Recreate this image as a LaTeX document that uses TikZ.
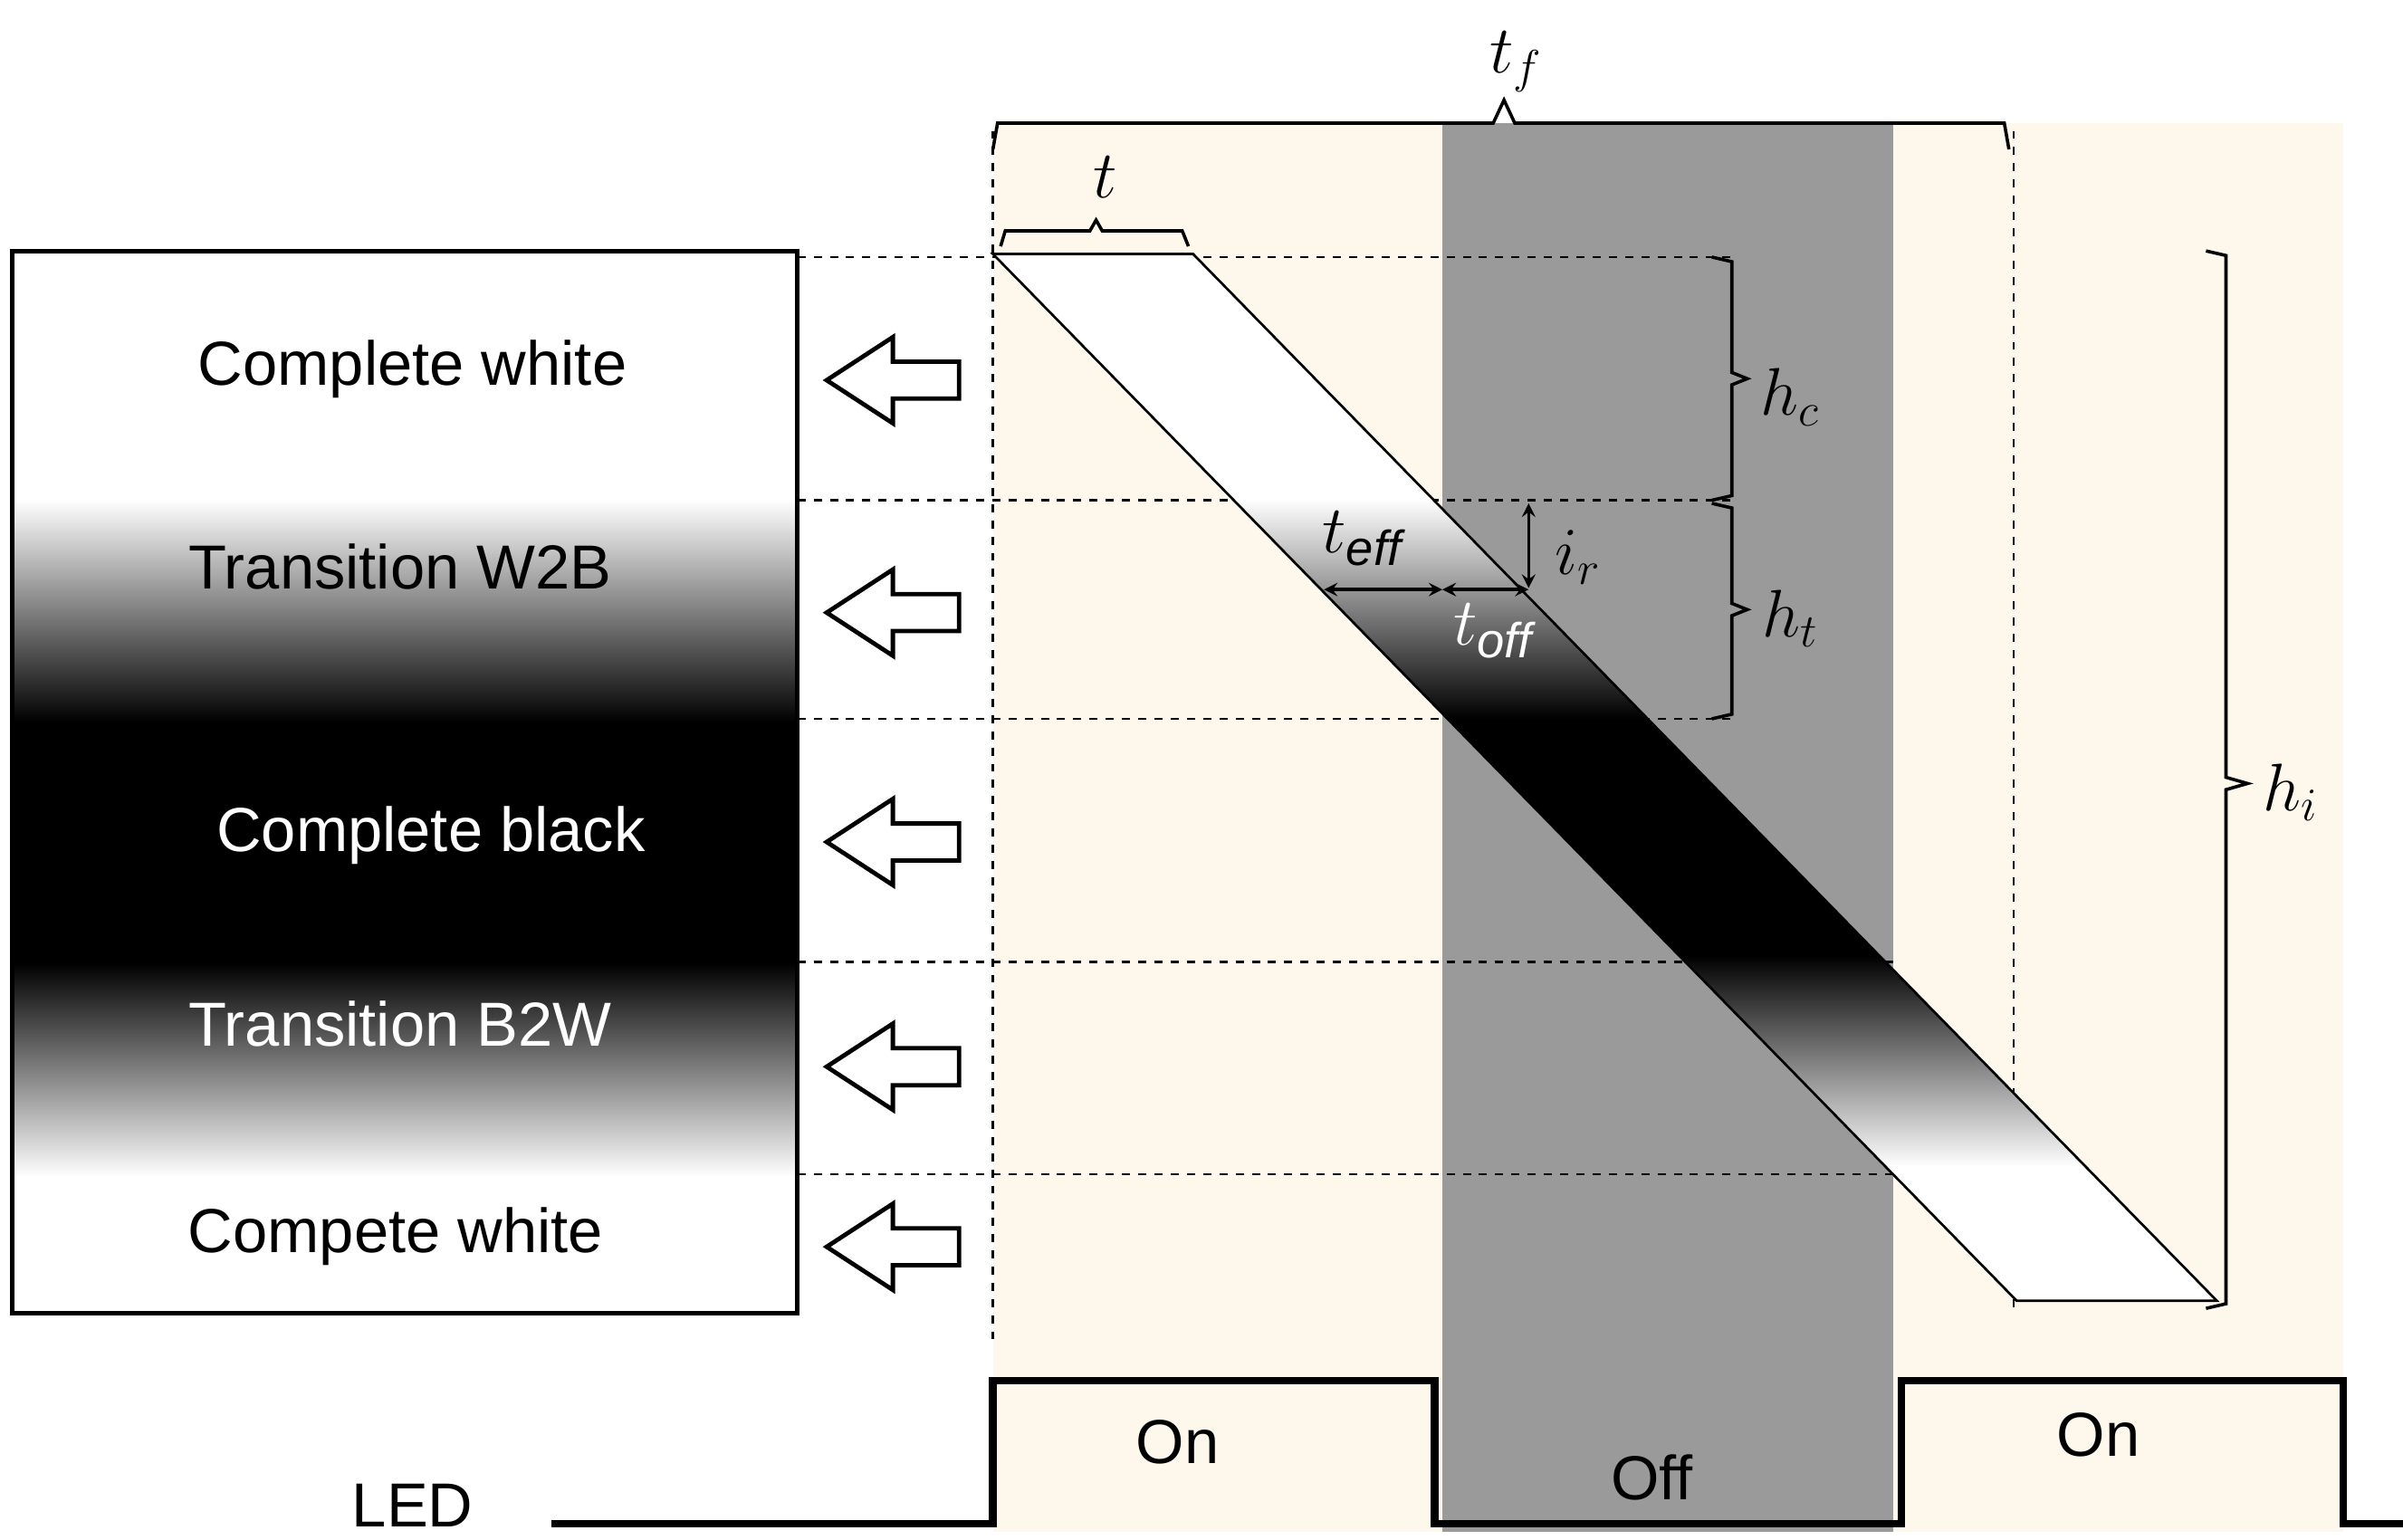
\documentclass[tikz,border=0pt]{standalone}
\usepackage{fontspec}
\setmainfont{Liberation Sans}
\pgfdeclareverticalshading{wb}{100bp}{color(0bp)=(white); color(25bp)=(white); color(31.4bp)=(white); color(41.5bp)=(black); color(52.8bp)=(black); color(63.3bp)=(white); color(75bp)=(white); color(100bp)=(white)}
\definecolor{cream}{HTML}{FDF7EC}
\definecolor{offgray}{HTML}{9A9A9A}
\begin{document}
\begin{tikzpicture}[x=0.02cm,y=-0.02cm,
  lbl/.style={font=\fontsize{23}{26}\selectfont},
  mlbl/.style={font=\fontsize{26}{30}\selectfont},
  dln/.style={dashed,line width=0.8pt},
  brk/.style={line width=1.2pt},
  harrow/.style={line width=1.6pt,fill=white},
  dbl/.style={line width=1.2pt,<->,>=stealth}]
\useasboundingbox (0,0) rectangle (1561,1000);
% backgrounds
\fill[cream] (645,80) rectangle (1522,995);
\fill[offgray] (937,80) rectangle (1230,995);
% left box
\shade[shading=wb] (8,163) rectangle (518,853);
\draw[line width=1.7pt] (8,163) rectangle (518,853);
\node[lbl] (cw) at (268,240) {Complete white};
\node[lbl] (tw) at (260,368) {Transition W2B};
\node[lbl,text=white] (cb) at (280,543) {Complete black};
\node[lbl,text=white] (tb) at (260,665) {Transition B2W};
\node[lbl] (cw2) at (257,803) {Compete white};
% hollow arrows
\foreach \y in {247,398,547,693,810}{
  \draw[harrow] (537,\y) -- (580,\y-28) -- (580,\y-12) -- (623,\y-12) -- (623,\y+12) -- (580,\y+12) -- (580,\y+28) -- cycle;}
% dashed lines
\draw[dln] (518,167) -- (1125,167);
\draw[dln] (518,325) -- (1125,325);
\draw[dln] (518,467) -- (1125,467);
\draw[dln] (518,625) -- (1230,625);
\draw[dln] (518,763) -- (1310,763);
\draw[dln] (645,85) -- (645,870);
\draw[dln] (1308,85) -- (1308,850);
% parallelogram
\shade[shading=wb] (645,165) -- (775,165) -- (1440,845) -- (1310,845) -- cycle;
\draw[line width=0.9pt] (645,165) -- (775,165) -- (1440,845) -- (1310,845) -- cycle;
% brackets
\draw[brk] (645,97) -- (648,80) -- (970,80) -- (977,65) -- (984,80) -- (1302,80) -- (1305,97);
\node[mlbl] (tf) at (985,40) {$t_f$};
\draw[brk] (650,160) -- (653,150) -- (708,150) -- (712,143) -- (716,150) -- (768,150) -- (772,160);
\node[mlbl] (t) at (718,115) {$t$};
\draw[brk] (1112,167) -- (1125,170) -- (1125,242) -- (1135,246) -- (1125,250) -- (1125,322) -- (1112,325);
\node[mlbl] (hc) at (1163,258) {$h_c$};
\draw[brk] (1112,327) -- (1125,330) -- (1125,392) -- (1135,396) -- (1125,400) -- (1125,464) -- (1112,467);
\node[mlbl] (ht) at (1163,402) {$h_t$};
\draw[brk] (1433,163) -- (1446,166) -- (1446,505) -- (1460,509) -- (1446,513) -- (1446,847) -- (1433,850);
\node[mlbl] (hi) at (1488,515) {$h_i$};
% small arrows
\coordinate (ir1) at (993,327); \coordinate (ir2) at (993,382);
\draw[dbl] (ir1) -- (ir2);
\node[mlbl] (ir) at (1025,362) {$i_r$};
\coordinate (te1) at (860,383); \coordinate (te2) at (937,383); \coordinate (to2) at (993,383);
\draw[dbl] (te1) -- (te2);
\draw[dbl] (te2) -- (to2);
\node[mlbl] (teff) at (885,350) {$t_{\mathit{eff}}$};
\node[mlbl,text=white] (toff) at (970,410) {$t_{\mathit{off}}$};
% LED waveform
\draw[line width=2.8pt] (358,990) -- (645,990) -- (645,897) -- (932,897) -- (932,990) -- (1235,990) -- (1235,897) -- (1522,897) -- (1522,990) -- (1561,990);
\node[lbl] (on1) at (765,937) {On};
\node[lbl] (off) at (1073,960) {Off};
\node[lbl] (on2) at (1363,932) {On};
\node[lbl] (led) at (268,978) {LED};
\end{tikzpicture}
\end{document}
